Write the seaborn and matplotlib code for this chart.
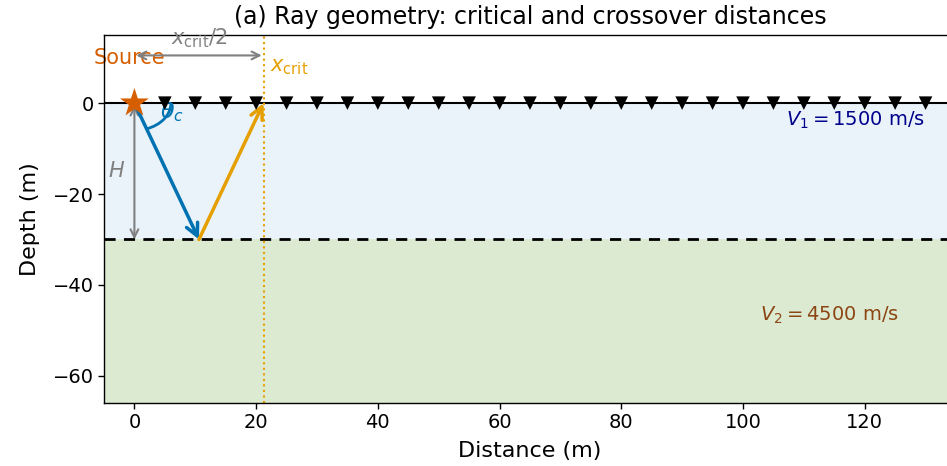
import numpy as np
import pandas as pd
import matplotlib
matplotlib.use("Agg")
import matplotlib.pyplot as plt
from matplotlib.patches import Arc
import seaborn as sns

# Model parameters
V1 = 1500.0          # m/s, upper layer
V2 = 4500.0          # m/s, half-space
H = 30.0             # m, layer thickness
receivers_x = list(range(5, 131, 5))
source_x = 0.0

theta_c = np.arcsin(V1 / V2)
x_crit = 2 * H * np.tan(theta_c)

sns.set_theme(style="ticks", rc={
    "text.color": "black", "axes.labelcolor": "black",
    "xtick.color": "black", "ytick.color": "black",
    "axes.edgecolor": "black",
})
plt.rcParams["font.family"] = ["DejaVu Sans"]

fig = plt.figure(figsize=(9.47, 4.66), dpi=100)
ax = fig.add_axes([0.1098, 0.1352, 0.8997, 0.7897])

xmin, xmax = -5, 135
ymin, ymax = -2.2 * H, 0.5 * H

# Layers
ax.fill_between([xmin, xmax], -H, 0, color="#EAF3FA", zorder=0, lw=0)
ax.fill_between([xmin, xmax], ymin, -H, color="#DDEAD2", zorder=0, lw=0)
ax.axhline(0, color="black", lw=1.5, zorder=2)
ax.axhline(-H, color="black", lw=2, ls=(0, (4, 3)), zorder=2)

# Critical distance marker
ax.axvline(x_crit, color="#E69F00", lw=1.5, ls=":", zorder=2)

# Receivers and source
rec = pd.DataFrame({"x": receivers_x, "z": [0.0] * len(receivers_x)})
sns.scatterplot(data=rec, x="x", y="z", marker="v", s=95, color="black",
                edgecolor="none", ax=ax, zorder=5)
src = pd.DataFrame({"x": [source_x], "z": [0.0]})
sns.scatterplot(data=src, x="x", y="z", marker="*", s=480, color="#D55E00",
                edgecolor="none", ax=ax, zorder=6)

# Critically refracted ray: down-going and up-going legs
x_hit = x_crit / 2
ax.annotate("", xy=(x_hit, -H), xytext=(source_x, 0),
            arrowprops=dict(arrowstyle="->", color="#0072B2", lw=2.5,
                            mutation_scale=22, shrinkA=0, shrinkB=0), zorder=4)
ax.annotate("", xy=(x_crit, 0), xytext=(x_hit, -H),
            arrowprops=dict(arrowstyle="->", color="#E69F00", lw=2.5,
                            mutation_scale=22, shrinkA=0, shrinkB=0), zorder=4)

# Critical angle arc
ray_angle = np.degrees(np.arctan2(-H, x_hit))
ax.add_patch(Arc((source_x, 0), 12, 12, theta1=ray_angle, theta2=0,
                 color="#0072B2", lw=2, zorder=4))
ax.text(6.2, -2.0, r"$\theta_c$", color="#0072B2", fontsize=16,
        ha="center", va="center")

# Layer thickness
ax.annotate("", xy=(source_x, -H), xytext=(source_x, -0.5),
            arrowprops=dict(arrowstyle="<->", color="gray", lw=1.5,
                            shrinkA=0, shrinkB=0, mutation_scale=14), zorder=3)
ax.text(-3.0, -15, r"$H$", color="gray", fontsize=15, ha="center", va="center")

# Half critical distance
ax.annotate("", xy=(x_crit - 0.3, 10.5), xytext=(0.3, 10.5),
            arrowprops=dict(arrowstyle="<->", color="gray", lw=1.5,
                            shrinkA=0, shrinkB=0, mutation_scale=14), zorder=3)
ax.text(x_crit / 2, 11.8, r"$x_{\rm crit}/2$", color="gray", fontsize=15,
        ha="center", va="bottom")
ax.text(-0.8, 10, "Source", color="#D55E00", fontsize=15, ha="center",
        va="center", zorder=2)
ax.text(x_crit + 1.0, 8, r"$x_{\rm crit}$", color="#E69F00", fontsize=15,
        ha="left", va="center")

# Velocities
ax.text(118.5, -3.8, r"$V_1 = 1500$ m/s", color="#00008B", fontsize=14,
        ha="center", va="center")
ax.text(114.2, -46.8, r"$V_2 = 4500$ m/s", color="#8B4513", fontsize=14,
        ha="center", va="center")

ax.set_xlim(xmin, xmax)
ax.set_ylim(ymin, ymax)
ax.set_xticks(range(0, 121, 20))
ax.set_yticks([0, -20, -40, -60])
ax.tick_params(labelsize=14, length=4, width=1, color="black")
for s in ax.spines.values():
    s.set_linewidth(1)
ax.set_xlabel("Distance (m)", fontsize=16, labelpad=6)
ax.set_ylabel("Depth (m)", fontsize=16, labelpad=9)
ax.set_title("(a) Ray geometry: critical and crossover distances", fontsize=17,
             pad=8)

fig.savefig("out.png", dpi=100)
